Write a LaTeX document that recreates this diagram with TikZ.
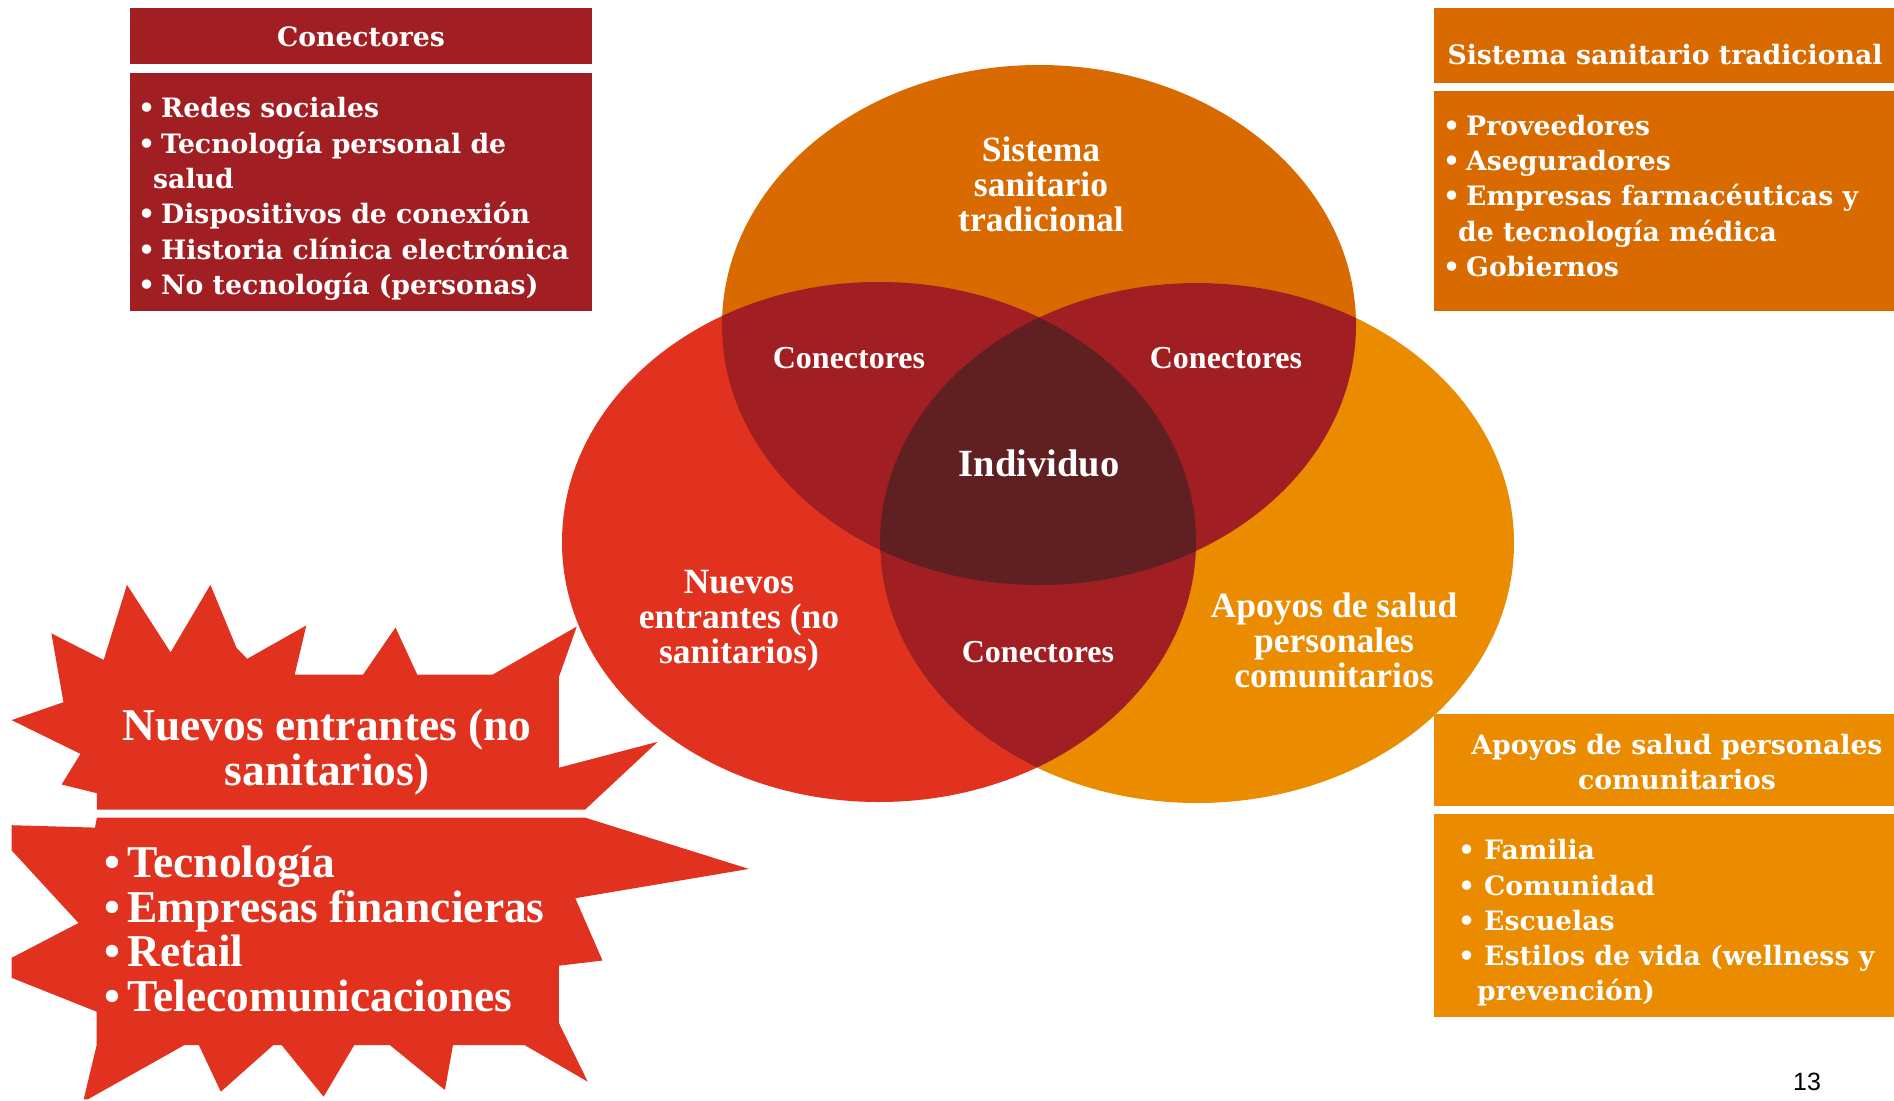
\documentclass[tikz,border=0pt]{standalone}
\usepackage{fontspec}
\setmainfont{Liberation Serif}
\newfontfamily\boxfont{DejaVu Serif}
\newfontfamily\numfont{Liberation Sans}
\definecolor{topC}{HTML}{D96A00}
\definecolor{leftC}{HTML}{E0321F}
\definecolor{rightC}{HTML}{EA8B00}
\definecolor{pairC}{HTML}{A11F22}
\definecolor{tripC}{HTML}{601F20}
\definecolor{burstC}{HTML}{E0321F}
\newcommand\bulA[1]{\makebox[#1pt][l]{•}}
\begin{document}
\begin{tikzpicture}[x=1pt,y=-1pt,
  vtext/.style={text=white, font=\bfseries\fontsize{32}{35}\selectfont, align=center, inner sep=0pt},
  vbig/.style={vtext, font=\bfseries\fontsize{35.5}{35}\selectfont},
  btext/.style={text=white, font=\boxfont\bfseries\fontsize{26.7}{35.3}\selectfont, inner sep=0pt},
  stext/.style={text=white, font=\bfseries\fontsize{45.5}{44.5}\selectfont, inner sep=0pt}]
\useasboundingbox (0,0) rectangle (1894,1100);
\def\topE{(1039,325) ellipse [x radius=317, y radius=260]}
\def\leftE{(879,542) ellipse [x radius=317, y radius=260]}
\def\rightE{(1197,543) ellipse [x radius=317, y radius=260]}
% Venn
\fill[topC] \topE;
\fill[leftC] \leftE;
\fill[rightC] \rightE;
\begin{scope}\clip \topE; \fill[pairC] \leftE; \fill[pairC] \rightE; \end{scope}
\begin{scope}\clip \leftE; \fill[pairC] \rightE; \end{scope}
\begin{scope}\clip \topE; \clip \leftE; \fill[tripC] \rightE; \end{scope}
\node[vbig] (sist) at (1041,184) {Sistema\\sanitario\\tradicional};
\node[vtext] (conL) at (849,358) {Conectores};
\node[vtext] (conR) at (1226,358) {Conectores};
\node[vtext] (conB) at (1038,652) {Conectores};
\node[vtext, font=\bfseries\fontsize{38.5}{40}\selectfont] (indiv) at (1039,463) {Individuo};
\node[vbig] (nuevV) at (739,621) {Nuevos\\entrantes (no\\sanitarios)};
\node[vbig] (apoyV) at (1334,640) {Apoyos de salud\\personales\\comunitarios};
% boxes
\fill[pairC] (130,8) rectangle (592,64);
\fill[pairC] (130,73) rectangle (592,311);
\fill[topC] (1434,8) rectangle (1894,83);
\fill[topC] (1434,91) rectangle (1894,311);
\fill[rightC] (1434,714) rectangle (1894,806);
\fill[rightC] (1434,814) rectangle (1894,1017);
\node[btext] (conHead) at (361,37) {Conectores};
\node[btext, anchor=west, align=left] (conList) at (138,199)
  {\bulA{23}Redes sociales\\\bulA{23}Tecnología personal de\\\hspace*{15pt}salud\\\bulA{23}Dispositivos de conexión\\\bulA{23}Historia clínica electrónica\\\bulA{23}No tecnología (personas)};
\node[btext] (sisHead) at (1665,55) {Sistema sanitario tradicional};
\node[btext, anchor=west, align=left] (sisList) at (1443,196)
  {\bulA{23}Proveedores\\\bulA{23}Aseguradores\\\bulA{23}Empresas farmacéuticas y\\\hspace*{15pt}de tecnología médica\\\bulA{23}Gobiernos};
\node[btext, align=center] (apoHead) at (1677,762) {Apoyos de salud personales\\comunitarios};
\node[btext, anchor=west, align=left] (apoList) at (1458,923)
  {\bulA{26}Familia\\\bulA{26}Comunidad\\\bulA{26}Escuelas\\\bulA{26}Estilos de vida (wellness y\\\hspace*{19pt}prevención)};
% starburst
\fill[burstC] (11.6,720.1) -- (63.5,702.2) -- (51.4,633.4) -- (103.7,659.9) -- (127.0,584.8)
  -- (170.6,652.3) -- (210.4,584.8) -- (236.5,647.8) -- (247.2,658.8) -- (306.3,625.4)
  -- (294.7,674.7) -- (363.0,674.7) -- (395.5,627.5) -- (417.3,674.7) -- (492.5,674.7)
  -- (576.8,626.5) -- (558.9,677.1) -- (558.9,767.7) -- (657.7,741.8) -- (585.0,809.7)
  -- (96.9,809.7) -- (96.9,793.2) -- (61.6,784.5) -- (80.5,753.9) -- cycle;
\fill[burstC] (96.9,817.6) -- (585.0,817.6) -- (748.9,868.9) -- (575.3,898.2) -- (602.5,960.5)
  -- (558.9,965.7) -- (558.9,1023.0) -- (587.8,1081.7) -- (524.5,1045) -- (453,1045)
  -- (444.9,1090) -- (389.8,1045) -- (354.3,1045) -- (323.6,1096.7) -- (281.6,1045)
  -- (273.4,1045) -- (220.8,1091.7) -- (198.8,1045) -- (184.5,1045) -- (87.8,1099.3)
  -- (83.7,1099.3) -- (96.7,1045) -- (96.7,1011.7) -- (11.6,977.8) -- (11.6,957.8)
  -- (78.5,923) -- (11.6,850.3) -- (11.6,825.2) -- (95,827.6) -- cycle;
\node[stext, align=center] (burstHead) at (327,752) {Nuevos entrantes (no\\sanitarios)};
\node[stext, anchor=west, align=left] (burstList) at (104,929)
  {\bulA{23}Tecnología\\\bulA{23}Empresas financieras\\\bulA{23}Retail\\\bulA{23}Telecomunicaciones};
\node[font=\numfont\fontsize{25}{25}\selectfont, inner sep=0pt] (pagenum) at (1807,1082) {13};
\end{tikzpicture}
\end{document}
